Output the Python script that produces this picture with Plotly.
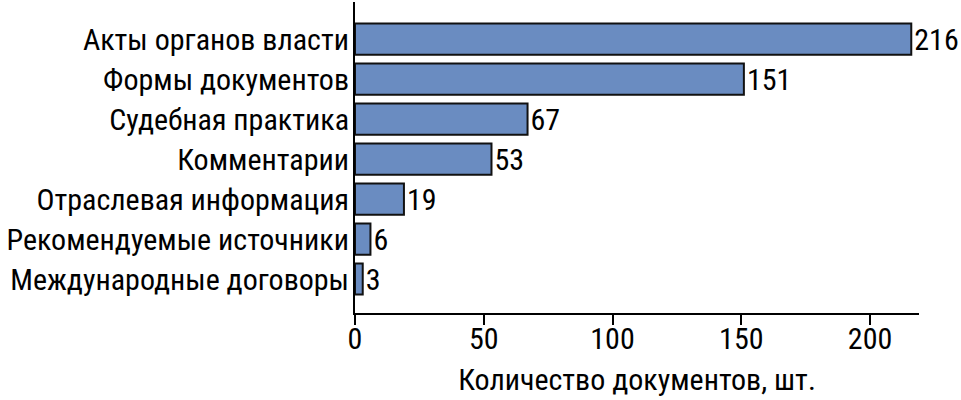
import plotly.graph_objects as go

categories = ["Акты органов власти", "Формы документов", "Судебная практика",
              "Комментарии", "Отраслевая информация", "Рекомендуемые источники",
              "Международные договоры"]
values = [216, 151, 67, 53, 19, 6, 3]
x_ticks = [0, 50, 100, 150, 200]
x_title = "Количество документов, шт."

FONT = "Roboto Condensed, Liberation Sans Narrow, DejaVu Sans Condensed, sans-serif"
FS = 30

fig = go.Figure(go.Bar(
    x=values, y=categories, orientation="h",
    marker=dict(color="#6a8cc1", line=dict(color="#111111", width=2)),
    text=[str(v) for v in values], textposition="outside",
    textfont=dict(family=FONT, size=FS, color="black"),
    constraintext="none",
    cliponaxis=False,
))

fig.update_layout(
    width=961, height=400,
    margin=dict(l=355, r=42, t=2, b=87, autoexpand=False),
    paper_bgcolor="white", plot_bgcolor="white",
    bargap=0.22, showlegend=False,
    font=dict(family=FONT, size=FS, color="black"),
)
fig.update_xaxes(
    range=[0, 219], tickvals=x_ticks, ticks="outside", ticklen=10, tickwidth=2,
    tickcolor="black", showline=True, linecolor="black", linewidth=2,
    showgrid=False, zeroline=False, automargin=False, ticklabelstandoff=-12,
    title=dict(text=x_title, font=dict(family=FONT, size=FS), standoff=14),
    tickfont=dict(family=FONT, size=FS),
)
fig.update_yaxes(
    categoryorder="array", categoryarray=categories,
    tickmode="array", tickvals=categories,
    range=[6.85, -0.93], showline=True, linecolor="black", linewidth=2,
    showgrid=False, zeroline=False, ticks="", ticklabelstandoff=-2,
    automargin=False,
    tickfont=dict(family=FONT, size=FS),
)

fig.write_html("out.html", config={"displayModeBar": False},
               post_script="document.body.style.margin='0';")
